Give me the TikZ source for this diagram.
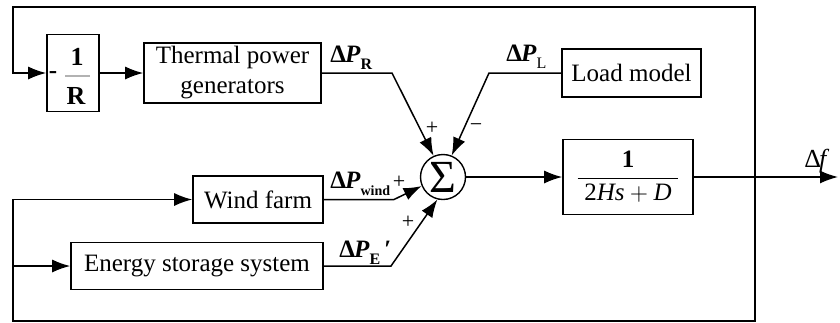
\documentclass[tikz,border=0pt]{standalone}
\usepackage{fontspec}
\setmainfont{Liberation Serif}
\usepackage{amsmath}
\usetikzlibrary{arrows.meta}
\newcommand{\dPlabel}[3]{{\bfseries Δ\kern-0.5pt\textit{P}}\raisebox{-0.65ex}{\fontsize{#3}{8}\selectfont #1#2}}

\begin{document}
\begin{tikzpicture}[x=0.5pt,y=-0.5pt,
  font=\fontsize{12.5}{15}\selectfont,
  blk/.style={draw, line width=0.8pt, inner sep=0pt, align=center},
  conn/.style={line width=0.75pt},
  arr/.style={conn, -{Latex[length=9pt,width=6.5pt]}},
  lbl/.style={inner sep=0pt, anchor=base west, font=\fontsize{12.5}{12}\selectfont},
  sgn/.style={inner sep=0pt, font=\fontsize{11}{11}\selectfont}]
\useasboundingbox (0,0) rectangle (840,322);

% blocks
\node[blk, minimum width=26pt, minimum height=38.5pt] (gain) at (73,73) {};
\node[inner sep=0pt, font=\fontsize{13}{12}\selectfont\bfseries] (gnum) at (77,57) {1};
\node[inner sep=0pt, font=\fontsize{13}{12}\selectfont\bfseries] (gden) at (76,96) {R};
\node[inner sep=0pt, font=\fontsize{12.5}{12}\selectfont\bfseries] (gneg) at (53,75) {-};
\draw[line width=0.8pt, gray!60] (65,76) -- (90,76);

\node[blk, minimum width=88.5pt, minimum height=30pt] (thermal) at (232.5,73) {Thermal power\\generators};
\node[blk, minimum width=69.5pt, minimum height=24pt] (load) at (631.5,73) {Load model};
\node[draw, circle, line width=0.7pt, minimum size=22.5pt, inner sep=0pt,
      font=\fontsize{23}{23}\selectfont] (sum) at (443,177) {Σ};
\node[blk, minimum width=65pt, minimum height=37.5pt] (tf) at (628,177)
  {$\dfrac{\text{\textbf{1}}}{\;\text{2\textit{Hs}}+\text{\textit{D}}\;}$};
\node[blk, minimum width=65pt, minimum height=23.5pt] (wind) at (258,199.5) {Wind farm};
\node[blk, minimum width=126pt, minimum height=23.5pt] (es) at (197,266) {Energy storage system};

% coordinates of the feedback loop and bends
\coordinate (tap) at (755,177);
\coordinate (tr) at (755,7);
\coordinate (tl) at (13,7);
\coordinate (br) at (755,321);
\coordinate (bl) at (13,321);
\coordinate (out) at (838,177);
\coordinate (kR) at (392,73);
\coordinate (kL) at (489,73);
\coordinate (kW) at (394,199.5);
\coordinate (kE) at (391,266);

% connectors
\draw[arr] (tap) -- (tr) -- (tl) |- (gain);
\draw[arr] (tap) -- (br) -- (bl) |- (wind);
\draw[arr] (bl |- es) -- (es);
\draw[arr] (gain) -- (thermal);
\draw[arr] (thermal.east) -- (kR) -- (sum.114);
\draw[arr] (load.west) -- (kL) -- (sum.68);
\draw[arr] (wind.east) -- (kW) -- (sum.203);
\draw[arr] (es.east) -- (kE) -- (sum.256);
\draw[arr] (sum) -- (tf);
\draw[arr] (tf) -- (out);

% labels
\node[lbl] (lR) at (330,62) {\dPlabel{\bfseries}{R}{8}};
\node[lbl] (lL) at (506,61) {\dPlabel{}{L}{8}};
\node[lbl] (lW) at (330,188) {\dPlabel{\bfseries}{wind}{7}};
\node[lbl] (lE) at (339,257) {\dPlabel{\bfseries}{E}{8}\,\textbf{′}};
\node[lbl, font=\fontsize{13}{12}\selectfont] (lf) at (804,167) {Δ\kern-1pt\textit{f}};

\node[sgn] (sR) at (432,128) {+};
\node[sgn] (sL) at (476,128) {−};
\node[sgn] (sW) at (399,182) {+};
\node[sgn] (sE) at (408,222) {+};
\end{tikzpicture}
\end{document}
